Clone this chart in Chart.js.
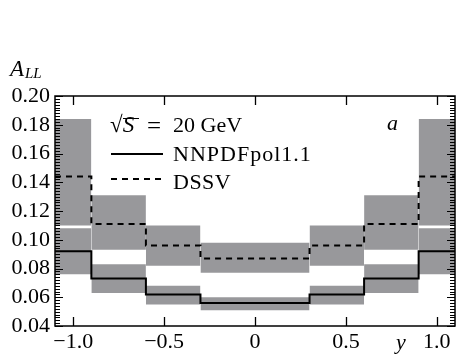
<!DOCTYPE html>
<html><head><meta charset="utf-8">
<script src="https://cdn.jsdelivr.net/npm/chart.js@4/dist/chart.umd.min.js"></script>
<style>
html,body{margin:0;padding:0;background:#fff;}
#wrap{position:relative;width:456px;height:354px;overflow:hidden;}
#c{position:absolute;left:0;top:0;}
.t{position:absolute;font-family:"Liberation Serif","Times New Roman",serif;font-size:22px;line-height:22px;color:#000;white-space:nowrap;}
.ln{position:absolute;height:0;}
</style></head><body>
<div id="wrap">
<canvas id="c" width="456" height="354"></canvas>
<div class="t" style="left:10px;top:58px;font-size:23px"><i>A</i></div>
<div class="t" style="left:25px;top:66px;font-size:15px;line-height:15px"><i>LL</i></div>
<div class="t" style="left:110px;top:114px;font-size:23px">√<span style="display:inline-block;line-height:12px;border-top:1.3px solid #000;"><i>S</i>&#8201;</span></div>
<div class="t" style="left:147px;top:113px;font-size:25px;line-height:25px">=</div>
<div class="t" style="left:173px;top:114px">20 GeV</div>
<svg class="ln" style="left:111px;top:150px;height:8px" width="54" height="8"><line x1="0" y1="4" x2="52" y2="4" stroke="#000" stroke-width="2"/></svg>
<div class="t" style="left:173px;top:143px;letter-spacing:1px">NNPDFpol1.1</div>
<svg class="ln" style="left:111px;top:175px;height:8px" width="54" height="8"><line x1="0" y1="4" x2="52" y2="4" stroke="#000" stroke-width="2" stroke-dasharray="6,5"/></svg>
<div class="t" style="left:173px;top:171px;letter-spacing:0.5px">DSSV</div>
<div class="t" style="left:387px;top:112px"><i>a</i></div>
<div class="t" style="left:396px;top:331px"><i>y</i></div>
</div>
<script>
// ---- data ----
const binEdges = [-1.1, -0.9, -0.6, -0.3, 0.0, 0.3, 0.6, 0.9, 1.1];
const nnpdf    = [0.092, 0.073, 0.062, 0.056, 0.056, 0.062, 0.073, 0.092];
const nnpdfLo  = [0.076, 0.063, 0.055, 0.051, 0.051, 0.055, 0.063, 0.076];
const nnpdfHi  = [0.108, 0.083, 0.068, 0.060, 0.060, 0.068, 0.083, 0.108];
const dssv     = [0.144, 0.111, 0.096, 0.087, 0.087, 0.096, 0.111, 0.144];
const dssvLo   = [0.110, 0.093, 0.082, 0.077, 0.077, 0.082, 0.093, 0.110];
const dssvHi   = [0.184, 0.131, 0.110, 0.098, 0.098, 0.110, 0.131, 0.184];
const xTicks      = [-1.0, -0.5, 0, 0.5, 1.0];
const xTickLabels = ['\u22121.0', '\u22120.5', '0', '0.5', '1.0'];
const yTicks      = [0.04, 0.06, 0.08, 0.10, 0.12, 0.14, 0.16, 0.18, 0.20];
const yMinorStep  = 0.002;

const GRAY = '#98989b';
const FONT = {family: '"Liberation Serif", "Times New Roman", serif', size: 22};

function band(i, lo, hi) {
  return {
    type: 'line',
    data: [{x: binEdges[i], y: hi[i]}, {x: binEdges[i + 1], y: hi[i]}],
    fill: {value: lo[i]},
    backgroundColor: GRAY,
    borderWidth: 0,
    borderColor: 'rgba(0,0,0,0)',
    pointRadius: 0,
    order: 5
  };
}
function stepLine(vals, dash) {
  const pts = vals.map((v, i) => ({x: binEdges[i], y: v}));
  pts.push({x: binEdges[binEdges.length - 1], y: vals[vals.length - 1]});
  return {
    type: 'line', data: pts, stepped: true, fill: false,
    borderColor: '#000', borderWidth: 2, borderDash: dash,
    pointRadius: 0, order: 1
  };
}
const datasets = [];
for (let i = 0; i < binEdges.length - 1; i++) {
  datasets.push(band(i, dssvLo, dssvHi));
  datasets.push(band(i, nnpdfLo, nnpdfHi));
}
datasets.push(stepLine(nnpdf, []));
datasets.push(stepLine(dssv, [6, 5]));

const frameTicks = {
  id: 'frameTicks',
  afterDatasetsDraw(chart) {
    const {ctx, chartArea: a, scales: {x, y}} = chart;
    ctx.save();
    ctx.strokeStyle = '#000';
    ctx.lineWidth = 1.3;
    ctx.beginPath();
    xTicks.forEach(v => {
      const px = Math.round(x.getPixelForValue(v)) + 0.5;
      ctx.moveTo(px, a.bottom); ctx.lineTo(px, a.bottom - 9);
      ctx.moveTo(px, a.top); ctx.lineTo(px, a.top + 9);
    });
    ctx.stroke();
    ctx.lineWidth = 1;
    ctx.beginPath();
    const n = Math.round((yTicks[yTicks.length - 1] - yTicks[0]) / yMinorStep);
    for (let k = 0; k <= n; k++) {
      const v = yTicks[0] + k * yMinorStep;
      const major = k % 10 === 0;
      const len = major ? 8 : 5;
      const py = Math.round(y.getPixelForValue(v)) + 0.5;
      ctx.moveTo(a.left, py); ctx.lineTo(a.left + len, py);
      ctx.moveTo(a.right, py); ctx.lineTo(a.right - len, py);
    }
    ctx.stroke();
    ctx.lineWidth = 1.5;
    ctx.strokeRect(a.left, a.top, a.right - a.left, a.bottom - a.top);
    ctx.restore();
  }
};

new Chart(document.getElementById('c'), {
  type: 'line',
  data: {datasets},
  options: {
    responsive: false, animation: false, events: [],
    layout: {padding: {top: 96, right: 1, left: 0, bottom: 0}},
    plugins: {legend: {display: false}, tooltip: {enabled: false}},
    scales: {
      x: {
        type: 'linear', min: -1.1, max: 1.1,
        afterBuildTicks: s => { s.ticks = xTicks.map(v => ({value: v})); },
        afterFit: s => { s.height = 28; },
        ticks: {
          callback: (v) => { const i = xTicks.indexOf(v); return i >= 0 ? xTickLabels[i] : ''; },
          font: FONT, color: '#000', padding: 3, maxRotation: 0, autoSkip: false
        },
        grid: {display: false, drawTicks: false, tickLength: 0},
        border: {display: false}
      },
      y: {
        type: 'linear', min: 0.04, max: 0.20,
        afterBuildTicks: s => { s.ticks = yTicks.map(v => ({value: v})); },
        afterFit: s => { s.width = 55; },
        ticks: {
          callback: v => v.toFixed(2),
          font: FONT, color: '#000', padding: 5, autoSkip: false
        },
        grid: {display: false, drawTicks: false, tickLength: 0},
        border: {display: false}
      }
    }
  },
  plugins: [frameTicks]
});
</script>
</body></html>
